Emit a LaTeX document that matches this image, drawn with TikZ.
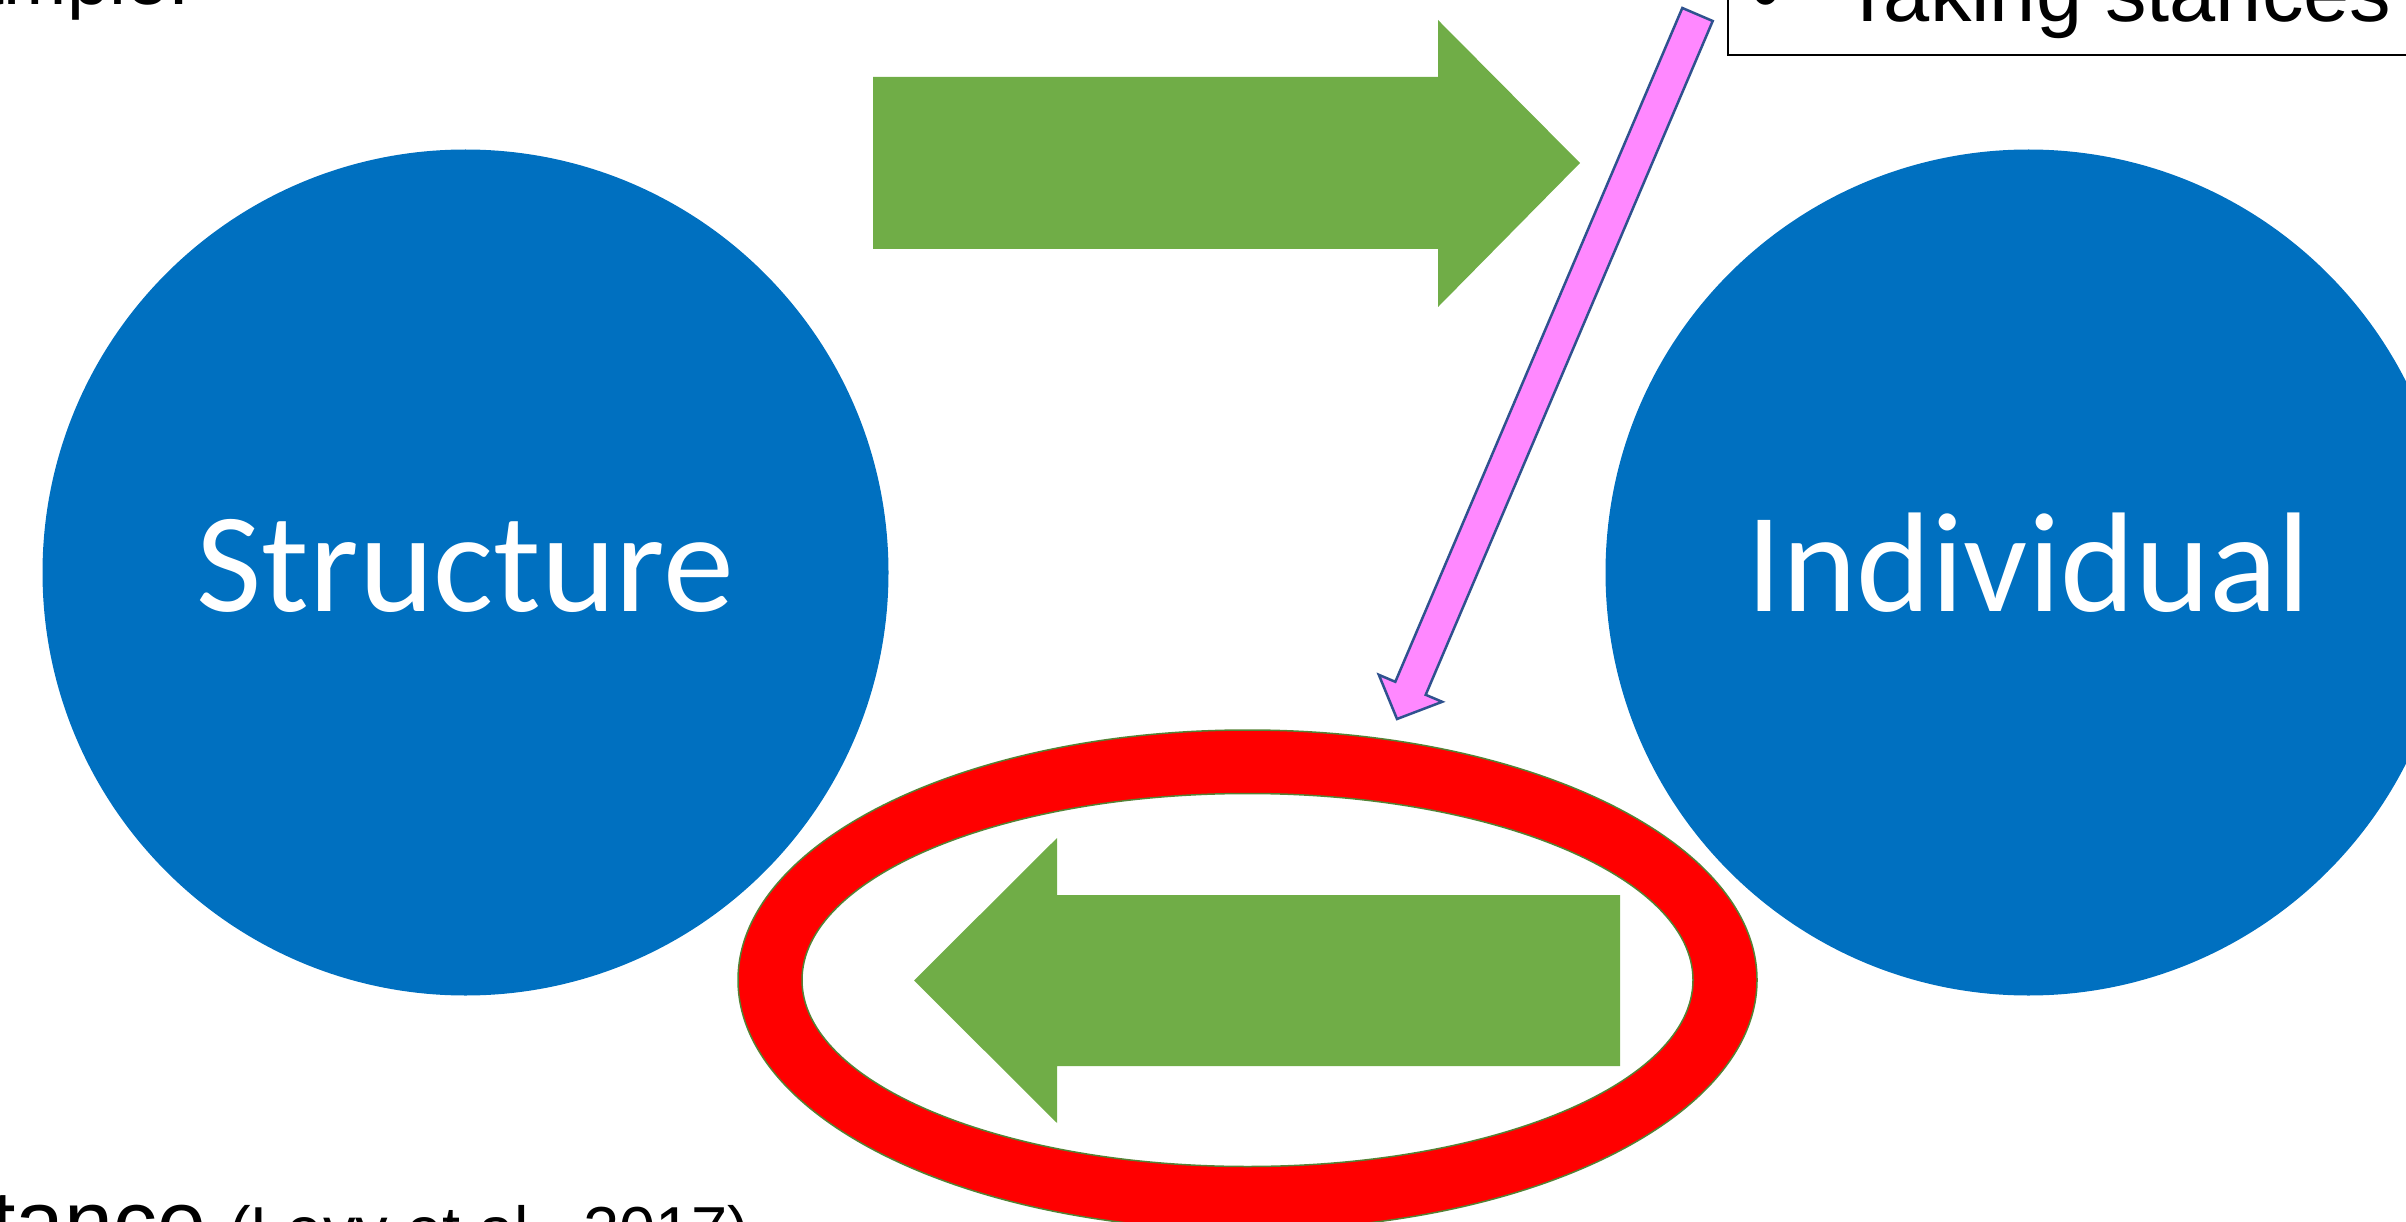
\documentclass[tikz,border=0pt]{standalone}
\usepackage{fontspec}
\setmainfont{Liberation Sans}
\newfontfamily\calibri{Carlito}
\usepackage{tikz}
\usetikzlibrary{calc, positioning}
\definecolor{blobblue}{HTML}{0070C0}
\definecolor{arrowgreen}{HTML}{70AD47}
\definecolor{ringgreen}{HTML}{548235}
\definecolor{pinkfill}{HTML}{FF88FF}
\definecolor{pinkline}{HTML}{2F528F}

\begin{document}
\begin{tikzpicture}[
  x=1pt, y=-1pt,
  blob/.style={circle, fill=blobblue, minimum size=846pt, inner sep=0pt,
               text=white, font=\calibri\fontsize{142}{158}\selectfont,
               text height=97pt, text depth=20pt},
  flow/.style={fill=arrowgreen},
  pointer/.style={fill=pinkfill, draw=pinkline, line width=2.5pt, line join=miter},
  halo/.style={fill=red, draw=ringgreen, line width=1.5pt, even odd rule},
  frame/.style={draw=black, line width=2pt},
  bigtext/.style={inner sep=0pt, font=\fontsize{80}{96}\selectfont},
  smalltext/.style={inner sep=0pt, font=\fontsize{65}{78}\selectfont},
]
  \useasboundingbox (0,0) rectangle (2406,1222);
  \clip (0,0) rectangle (2406,1222);

  % the two sides
  \node[blob] (structure)  at (465.5,572.5)  {Structure};
  \node[blob] (individual) at (2028.5,572.5) {Individual};

  % structure -> individual
  \draw[flow, draw=none] (873,77) -- (1438,77) -- (1438,20) -- (1580,163)
        -- (1438,307) -- (1438,249) -- (873,249) -- cycle;

  % individual -> structure, circled
  \coordinate (ringc) at (1247.5,980);
  \path[halo] (ringc) ellipse [x radius=509.5pt, y radius=250pt]
              (ringc) ellipse [x radius=445.5pt, y radius=186.5pt];
  \draw[flow, draw=none] (1620,895) -- (1057,895) -- (1057,838) -- (914,980.5)
        -- (1057,1123) -- (1057,1066) -- (1620,1066) -- cycle;

  % pointer from the box
  \draw[pointer] (1712.7,21) -- (1425.7,694.8) -- (1442.2,701.8) -- (1397,719)
        -- (1378.8,674.8) -- (1395.3,681.8) -- (1682.3,8) -- cycle;

  % box, top right
  \draw[frame] (1728,-20) rectangle (2440,55);
  \node[bigtext, font=\fontsize{83}{100}\selectfont, anchor=base west] (stances) at (1751,22)
        {•\hspace{62pt}Taking stances};

  % texts cut by the edges
  \node[bigtext, font=\fontsize{76}{90}\selectfont, anchor=base east] (example) at (190,5) {Example:};
  \node[bigtext, font=\fontsize{88}{104}\selectfont, anchor=base east] (stance) at (207,1252) {Stance};
  \node[smalltext, anchor=base west] (cite) at ([xshift=22pt]stance.base east)
        {(Levy et al., 2017)};
\end{tikzpicture}
\end{document}
